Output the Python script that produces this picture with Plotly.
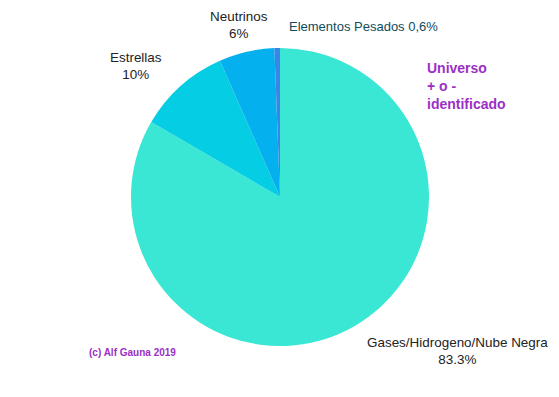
import plotly.graph_objects as go

labels = ["Gases/Hidrogeno/Nube Negra", "Estrellas", "Neutrinos", "Elementos Pesados"]
values = [83.3, 10, 6, 0.6]
pct_text = ["83.3%", "10%", "6%", "0,6%"]
colors = ["#3AE6D4", "#05CDE3", "#05B0EE", "#3A86E6"]

# The page body has an 8px margin, so the figure is drawn 8px in from the window edge.
OFF = 8
W, H = 559 - OFF, 397 - OFF
FONT = "Liberation Sans, Arial, sans-serif"

def px(x):
    return (x - OFF) / W
def py(y):
    return (H - (y - OFF)) / H

fig = go.Figure(go.Pie(
    labels=labels,
    values=values,
    textinfo="none",
    marker=dict(colors=colors, line=dict(width=0)),
    sort=False,
    direction="clockwise",
    rotation=0,
    showlegend=False,
    hoverinfo="label+percent",
    automargin=False,
    domain=dict(x=[px(131), px(429)], y=[py(347), py(47)]),
))

# slice labels placed beside their slices
label_pos = [(457, 351), (136, 66), (239, 25.5)]
annotations = []
for i, (x, y) in enumerate(label_pos):
    annotations.append(dict(
        text=labels[i] + "<br>" + pct_text[i], x=px(x), y=py(y), xref="paper", yref="paper",
        xanchor="center", yanchor="middle", align="center", showarrow=False,
        font=dict(size=13.45, color="#222222", family=FONT)))
annotations.append(dict(
    text=labels[3] + " " + pct_text[3], x=px(287), y=py(26), xref="paper", yref="paper",
    xanchor="left", yanchor="middle", showarrow=False,
    font=dict(size=13, color="#0F4C5C", family=FONT)))
annotations.append(dict(
    text="<b>Universo<br>+ o -<br>identificado</b>", x=px(425), y=py(57.5), xref="paper", yref="paper",
    xanchor="left", yanchor="top", align="left", showarrow=False,
    font=dict(size=14, color="#9B2FC4", family=FONT)))
annotations.append(dict(
    text="<b>(c) Alf Gauna 2019</b>", x=px(87), y=py(352), xref="paper", yref="paper",
    xanchor="left", yanchor="middle", align="left", showarrow=False,
    font=dict(size=10, color="#9B2FC4", family=FONT)))

fig.update_layout(
    width=W, height=H,
    margin=dict(l=0, r=0, t=0, b=0),
    paper_bgcolor="white",
    plot_bgcolor="white",
    font=dict(family=FONT),
    annotations=annotations,
)

fig.write_html("out.html")
